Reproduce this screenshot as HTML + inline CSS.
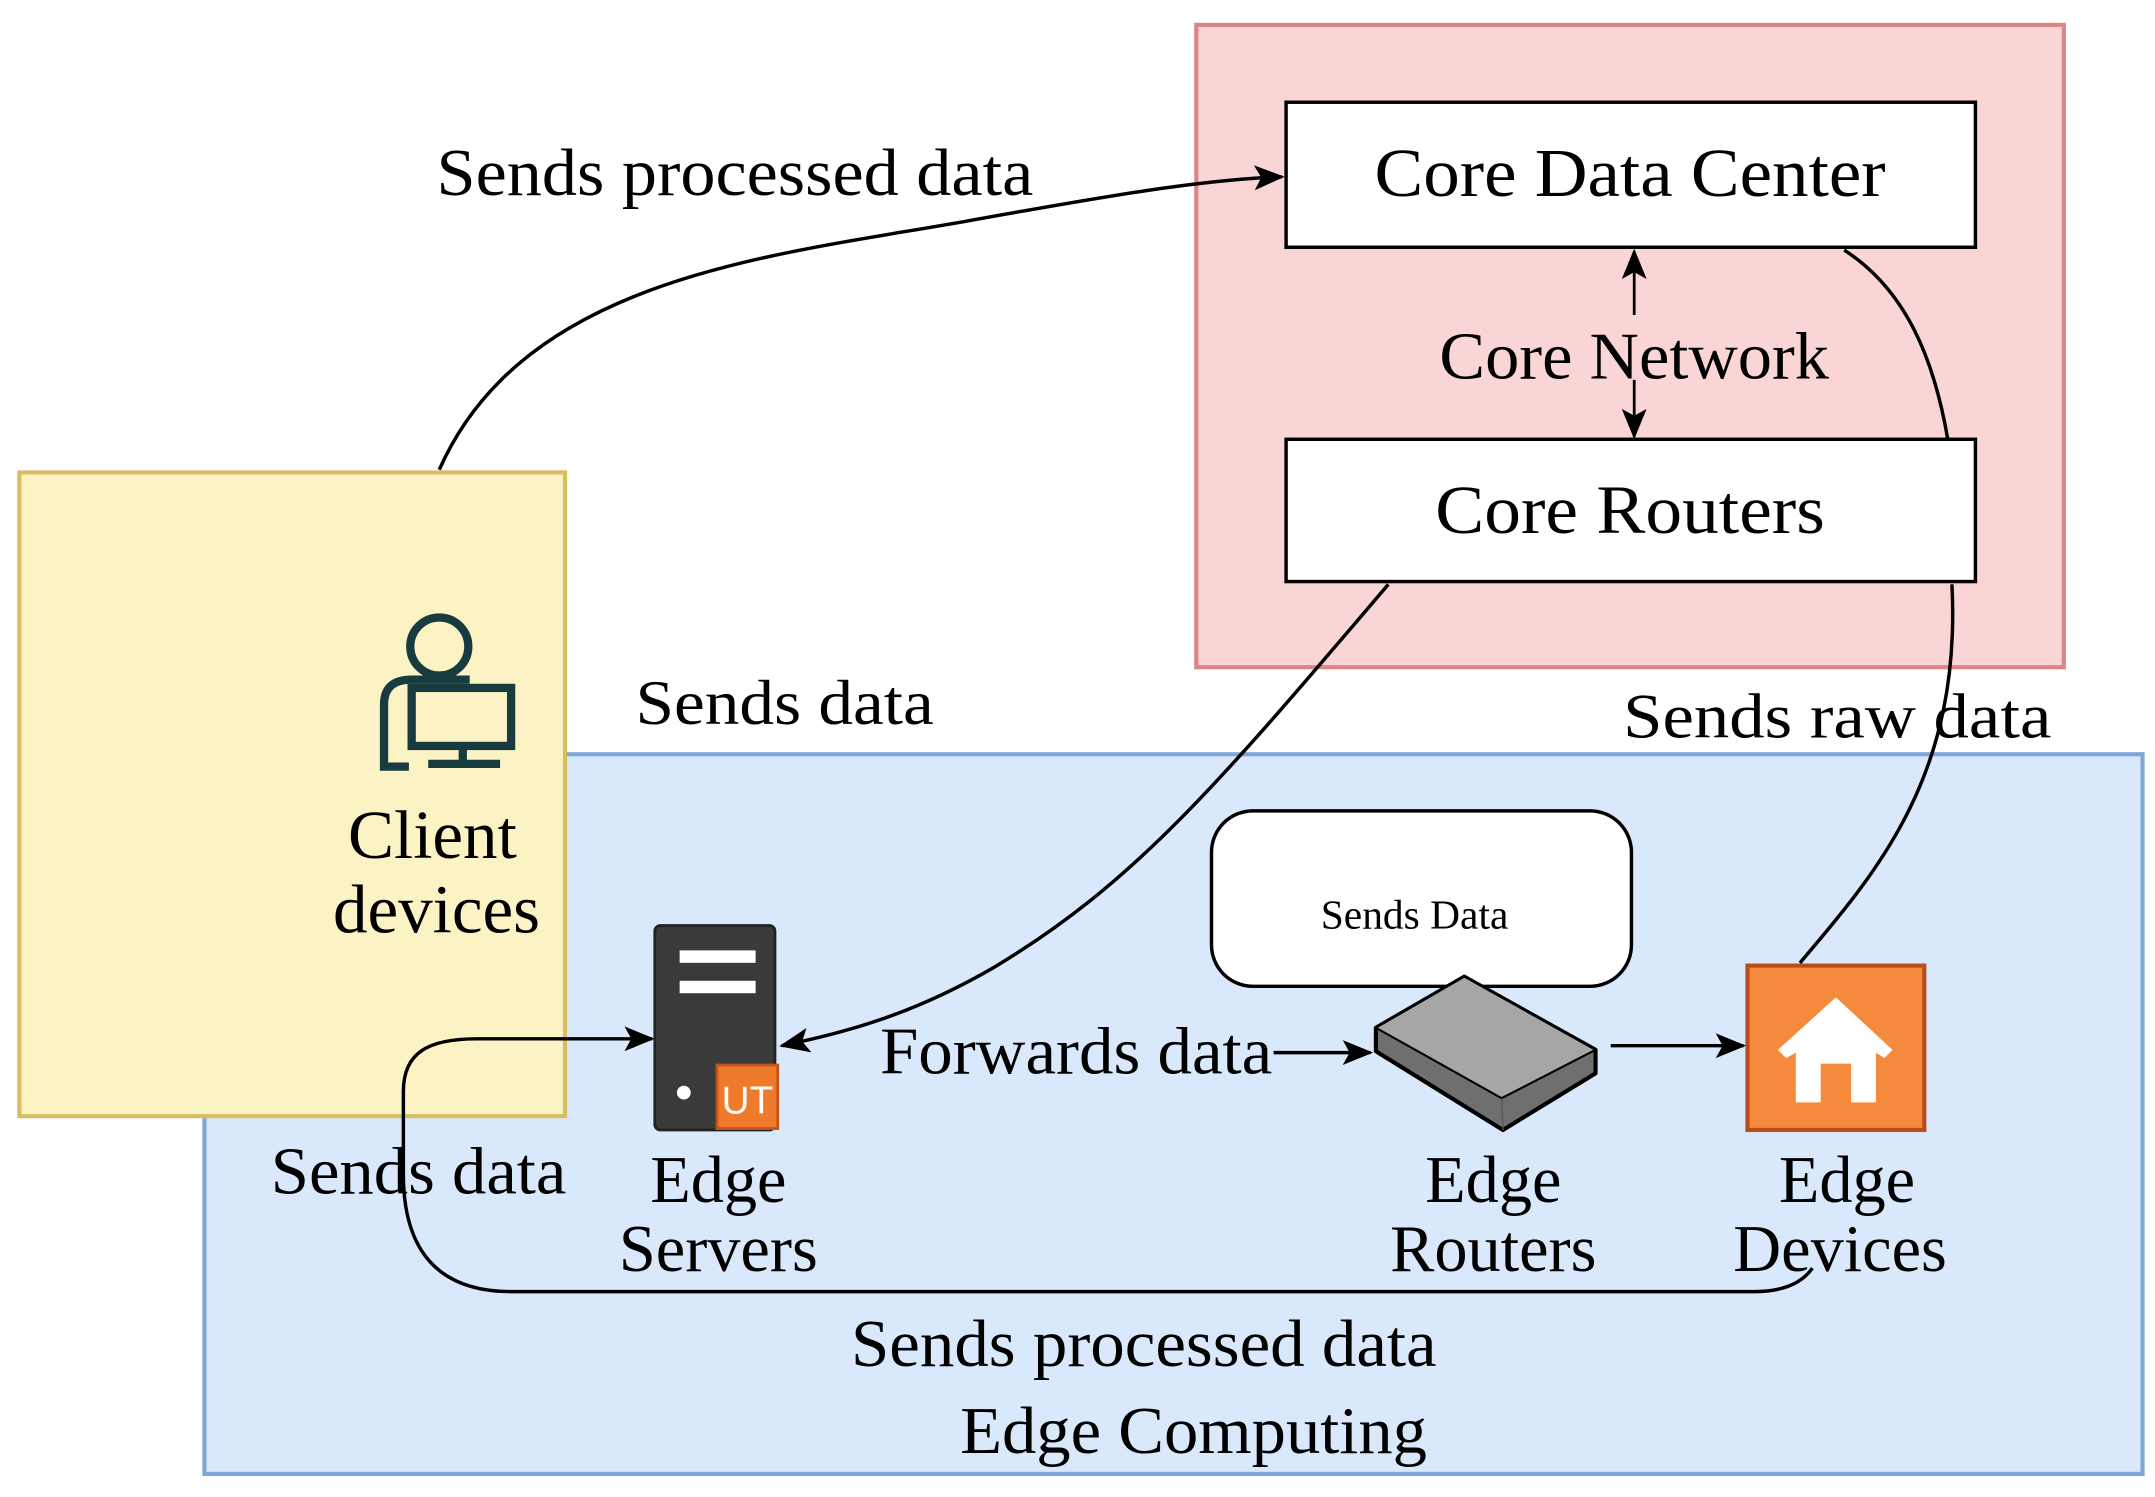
<!DOCTYPE html>
<html><head><meta charset="utf-8"><style>html,body{margin:0;padding:0;background:#fff}svg{display:block}text{font-family:"Liberation Serif",serif;fill:#000}</style></head>
<body>
<svg width="2155" height="1497" viewBox="0 0 1560 1083.7" preserveAspectRatio="none" xmlns="http://www.w3.org/2000/svg">
<defs>
<marker id="b" markerWidth="22" markerHeight="22" refX="20" refY="11" orient="auto" markerUnits="userSpaceOnUse" viewBox="0 0 22 22"><path d="M0,2 L22,11 L0,20 L5,11z" fill="#000"/></marker></defs>
<rect x="866" y="18" width="628" height="465" fill="#fad5d5" stroke="#dd8585" stroke-width="3"/>
<rect x="148" y="546" width="1403" height="521" fill="#dae8fc" stroke="#7ea6d8" stroke-width="3"/>
<rect x="14" y="342" width="395" height="466" fill="#fcf3c5" stroke="#d8bd62" stroke-width="3"/>
<rect x="931" y="74" width="499" height="105" fill="#fff" stroke="#000" stroke-width="2.5"/>
<text x="1180" y="142" font-size="50" text-anchor="middle" textLength="370" lengthAdjust="spacingAndGlyphs">Core Data Center</text>
<rect x="931" y="318" width="499" height="103" fill="#fff" stroke="#000" stroke-width="2.5"/>
<text x="1180" y="386" font-size="50" text-anchor="middle" textLength="282" lengthAdjust="spacingAndGlyphs">Core Routers</text>
<line x1="1183" y1="228" x2="1183" y2="182" stroke="#000" stroke-width="2" marker-end="url(#b)"/>
<line x1="1183" y1="275" x2="1183" y2="316" stroke="#000" stroke-width="2" marker-end="url(#b)"/>
<text x="1183" y="274" font-size="48" text-anchor="middle" textLength="282" lengthAdjust="spacingAndGlyphs">Core Network</text>
<g fill="none" stroke="#173b3f" stroke-width="6">
<circle cx="318" cy="468" r="21"/>
<path d="M296,555 L278,555 L278,510 Q278,492 298,492 L340,492"/>
<rect x="298" y="498" width="72" height="42"/>
<line x1="335" y1="540" x2="335" y2="552"/><line x1="310" y1="553" x2="362" y2="553"/>
</g>
<text x="313" y="621" font-size="50" text-anchor="middle">Client</text>
<text x="316" y="675" font-size="50" text-anchor="middle">devices</text>
<text x="568" y="524" font-size="46" text-anchor="middle" textLength="216" lengthAdjust="spacingAndGlyphs">Sends data</text>
<text x="1330" y="534" font-size="46" text-anchor="middle" textLength="310" lengthAdjust="spacingAndGlyphs">Sends raw data</text>
<text x="532" y="141" font-size="48" text-anchor="middle" textLength="432" lengthAdjust="spacingAndGlyphs">Sends processed data</text>
<rect x="877" y="587" width="304" height="127" rx="30" fill="#fff" stroke="#000" stroke-width="2.5"/>
<text x="1024" y="672" font-size="30" text-anchor="middle">Sends Data</text>
<rect x="474" y="670" width="87" height="148" rx="4" fill="#3a3a3a" stroke="#222" stroke-width="2"/>
<rect x="492" y="688" width="55" height="9" fill="#fff"/><rect x="492" y="710" width="55" height="9" fill="#fff"/>
<circle cx="495" cy="791" r="5" fill="#fff"/>
<rect x="519" y="771" width="44" height="46" fill="#f07a2c" stroke="#c0541a" stroke-width="2"/>
<text x="541" y="806" font-size="28" text-anchor="middle" style="fill:#fff;font-family:'Liberation Sans'">UT</text>
<path d="M996,744 L1060,707 L1155,760 L1155,777 L1088,818 L996,761 Z" fill="#6f6f6f" stroke="#000" stroke-width="3" stroke-linejoin="round"/>
<path d="M996,744 L1060,707 L1155,760 L1087,795 Z" fill="#a6a6a6" stroke="#000" stroke-width="1.5"/>
<line x1="1087" y1="795" x2="1088" y2="818" stroke="#555" stroke-width="1"/>
<rect x="1265" y="699" width="128" height="119" fill="#f58a3c" stroke="#b94d1c" stroke-width="3"/>
<path d="M1329,722 L1370,760 L1364,766 L1358,762 L1358,798 L1340,798 L1340,770 L1318,770 L1318,798 L1300,798 L1300,762 L1293,766 L1287,760 Z" fill="#fff"/>
<text x="520" y="870" font-size="48" text-anchor="middle">Edge</text>
<text x="520" y="920" font-size="48" text-anchor="middle">Servers</text>
<text x="1081" y="870" font-size="48" text-anchor="middle">Edge</text>
<text x="1081" y="920" font-size="48" text-anchor="middle">Routers</text>
<text x="1337" y="870" font-size="48" text-anchor="middle">Edge</text>
<text x="1332" y="920" font-size="48" text-anchor="middle">Devices</text>
<text x="779" y="777" font-size="48" text-anchor="middle" textLength="284" lengthAdjust="spacingAndGlyphs">Forwards data</text>
<text x="303" y="864" font-size="48" text-anchor="middle" textLength="214" lengthAdjust="spacingAndGlyphs">Sends data</text>
<text x="828" y="989" font-size="48" text-anchor="middle" textLength="424" lengthAdjust="spacingAndGlyphs">Sends processed data</text>
<text x="864" y="1052" font-size="48" text-anchor="middle" textLength="338" lengthAdjust="spacingAndGlyphs">Edge Computing</text>
<g fill="none" stroke="#000" stroke-width="2.5">
<line x1="922" y1="762" x2="992" y2="762" marker-end="url(#b)"/>
<line x1="1166" y1="757" x2="1262" y2="757" marker-end="url(#b)"/>
<path d="M318,340 C380,200 560,185 700,160 C800,142 870,130 928,128" marker-end="url(#b)"/>
<path d="M1005,423 C880,570 820,640 720,700 C660,735 610,748 566,757" marker-end="url(#b)"/>
<path d="M1335,181 C1380,210 1400,260 1410,318"/>
<path d="M1413,423 C1420,560 1360,630 1303,697"/>
<path d="M1312,918 Q1300,935 1270,935 L370,935 C305,935 292,890 292,850 L292,790 C292,762 310,752 345,752 L472,752" marker-end="url(#b)"/>
</g>
</svg>
</body></html>
